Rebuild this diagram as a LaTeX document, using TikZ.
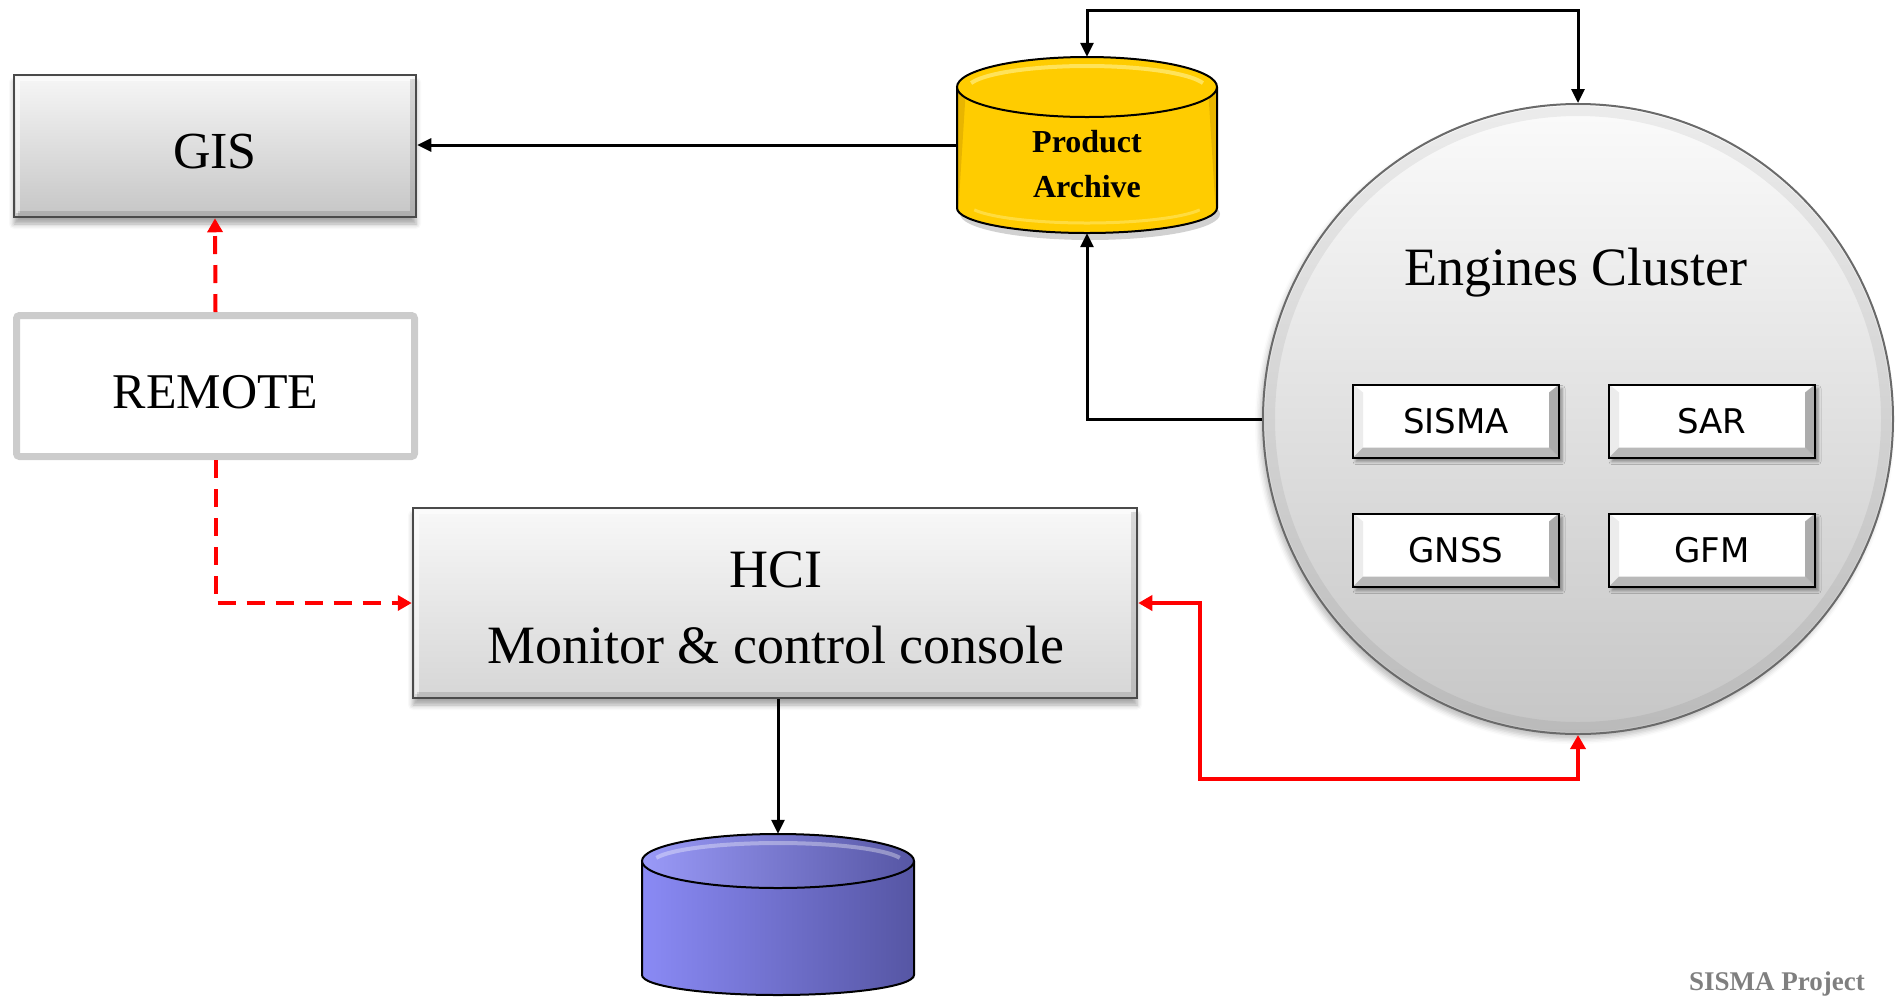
\documentclass[tikz,border=0pt]{standalone}
\usepackage{fontspec}
\setmainfont{Liberation Serif}
\newfontfamily\boxsans{DejaVu Sans}
\usetikzlibrary{arrows.meta,shadows.blur}

\definecolor{frame}{HTML}{4A4A4A}
\definecolor{gisTop}{HTML}{F6F6F6}
\definecolor{gisBot}{HTML}{C6C6C6}
\definecolor{hciTop}{HTML}{F8F8F8}
\definecolor{hciBot}{HTML}{D6D6D6}
\definecolor{remoteEdge}{HTML}{CCCCCC}
\definecolor{archYel}{HTML}{FFCC00}
\definecolor{archYelDark}{HTML}{E8B500}
\definecolor{archYelLight}{HTML}{FFE35A}
\definecolor{dbBlueL}{HTML}{8A8AF5}
\definecolor{dbBlueR}{HTML}{5656A4}
\definecolor{dbBlueTop}{HTML}{9A9AF8}
\definecolor{linkRed}{HTML}{FF0000}
\definecolor{footGray}{HTML}{7F7F7F}
\definecolor{clusterTop}{HTML}{FBFBFB}
\definecolor{clusterBot}{HTML}{C6C6C6}
\definecolor{clusterEdge}{HTML}{6A6A6A}

\newcommand\sz[2]{\fontsize{#1}{#2}\selectfont}

\begin{document}
\begin{tikzpicture}[x=1pt,y=-1pt,
  blk/.tip={Triangle[length=14pt,width=13pt]},
  rtip/.tip={Triangle[length=14pt,width=15pt]},
  panel/.style={draw=frame, line width=2.5pt, inner sep=0pt,
    blur shadow={shadow xshift=0pt, shadow yshift=-7pt, shadow blur radius=5pt, shadow opacity=35},
    path picture={
      \draw[white, opacity=0.55, line width=4pt]
        ([xshift=4pt,yshift=4pt]path picture bounding box.south west) --
        ([xshift=4pt,yshift=-4pt]path picture bounding box.north west) --
        ([xshift=-4pt,yshift=-4pt]path picture bounding box.north east);
      \draw[black, opacity=0.12, line width=5pt]
        ([xshift=-4pt,yshift=-4pt]path picture bounding box.north east) --
        ([xshift=-4pt,yshift=4pt]path picture bounding box.south east) --
        ([xshift=4pt,yshift=4pt]path picture bounding box.south west);
    }},
  engine/.style={draw=black, line width=2pt, fill=white, inner sep=0pt,
    minimum width=206pt, minimum height=73pt, font=\boxsans\sz{34}{40},
    blur shadow={shadow xshift=3pt, shadow yshift=-4pt, shadow blur radius=3pt, shadow opacity=40},
    path picture={
      \fill[gray!15] (path picture bounding box.north west) --
        (path picture bounding box.south west) --
        ([xshift=10pt,yshift=10pt]path picture bounding box.south west) --
        ([xshift=10pt,yshift=-8pt]path picture bounding box.north west) -- cycle;
      \fill[gray!55] (path picture bounding box.south west) --
        (path picture bounding box.south east) --
        ([xshift=-10pt,yshift=10pt]path picture bounding box.south east) --
        ([xshift=10pt,yshift=10pt]path picture bounding box.south west) -- cycle;
      \fill[gray!65] (path picture bounding box.south east) --
        (path picture bounding box.north east) --
        ([xshift=-10pt,yshift=-8pt]path picture bounding box.north east) --
        ([xshift=-10pt,yshift=10pt]path picture bounding box.south east) -- cycle;
    }},
  link/.style={line width=3pt, -blk},
  link2/.style={line width=3pt, blk-blk},
  redlink/.style={draw=linkRed, line width=4pt, rtip-rtip},
  reddash/.style={draw=linkRed, line width=4pt, dash pattern=on 18pt off 11pt, -rtip}
]
\useasboundingbox (0,0) rectangle (1896,997);

% ---------- GIS and REMOTE ----------
\node[panel, top color=gisTop, bottom color=gisBot,
      minimum width=402pt, minimum height=142pt, font=\sz{52}{60},
      text height=44pt, text depth=0pt] (gis) at (215,146) {GIS};

\node[draw=remoteEdge, line width=7pt, fill=white, rounded corners=3pt,
      minimum width=398pt, minimum height=141pt, font=\sz{50}{58},
      text height=44pt, text depth=0pt] (remote) at (215.5,386) {REMOTE};

% ---------- HCI console ----------
\node[panel, top color=hciTop, bottom color=hciBot,
      minimum width=724pt, minimum height=190pt] (hci) at (775,603) {};
\node[font=\sz{54}{76}, align=center] (hcitext) at (776,608) {HCI\\Monitor \& control console};

% ---------- Product archive drum ----------
\fill[black, opacity=0.18] (1090,214) ellipse [x radius=130, y radius=26];
\fill[archYel]
  (957,87) -- (957,208) arc[start angle=180, end angle=0, x radius=130, y radius=25] -- (1217,87) -- cycle;
\fill[archYelDark] (957,87) -- (957,208) arc[start angle=180, end angle=172, x radius=130, y radius=25] -- (966,87) -- cycle;
\fill[archYelDark] (1217,87) -- (1217,208) arc[start angle=0, end angle=8, x radius=130, y radius=25] -- (1208,87) -- cycle;
\draw[archYelLight, line width=3pt, opacity=0.7] (1087,203) ++(160:120 and 20) arc[start angle=160, end angle=20, x radius=120, y radius=20];
\draw[line width=2pt] (957,87) -- (957,208) arc[start angle=180, end angle=0, x radius=130, y radius=25] -- (1217,87);
\draw[line width=2pt, fill=archYel] (1087,87) ellipse [x radius=130, y radius=30];
\draw[archYelLight, line width=4pt] (1087,89) ++(195:120 and 23) arc[start angle=195, end angle=345, x radius=120, y radius=23];
\node[inner sep=0pt, minimum width=260pt, minimum height=176pt] (pa) at (1087,145) {};
\node[font=\bfseries\sz{32}{45}, align=center] (patext) at (1087,164) {Product\\Archive};

% ---------- Local database drum ----------
\path[left color=dbBlueL, right color=dbBlueR]
  (642,861) -- (642,975) arc[start angle=180, end angle=0, x radius=136, y radius=20] -- (914,861) -- cycle;
\draw[line width=2pt] (642,861) -- (642,975) arc[start angle=180, end angle=0, x radius=136, y radius=20] -- (914,861);
\draw[line width=2pt, left color=dbBlueTop, right color=dbBlueR] (778,861) ellipse [x radius=136, y radius=27];
\draw[white, opacity=0.35, line width=4pt] (778,863) ++(195:126 and 20) arc[start angle=195, end angle=345, x radius=126, y radius=20];
\node[inner sep=0pt, minimum width=272pt, minimum height=161pt] (db) at (778,914.5) {};

% ---------- Engines cluster ----------
\node[circle, draw=clusterEdge, line width=2pt, inner sep=0pt, minimum size=630pt,
      top color=clusterTop, bottom color=clusterBot,
      blur shadow={shadow xshift=-3pt, shadow yshift=-5pt, shadow blur radius=5pt, shadow opacity=25}] (ec) at (1578,419) {};
\draw[black, opacity=0.06, line width=10pt] (ec.center) circle [radius=308];
\node[font=\sz{54}{60}] (ectitle) at (1576,273) {Engines Cluster};

\node[engine] (sisma) at (1456,421) {SISMA};
\node[engine] (sar)   at (1712,421) {SAR};
\node[engine] (gnss)  at (1456,550) {GNSS};
\node[engine] (gfm)   at (1712,550) {GFM};

% ---------- Connectors ----------
\coordinate (looptop) at (1087,10);
\coordinate (redturn) at (1200,779);

\draw[link] (pa.west) -- (pa.west -| gis.east);
\draw[link2] (pa.north) -- (looptop) -| (ec.north);
\draw[link] (ec.west) -| (pa.south);
\draw[link] (hci.south -| db.north) -- (db.north);
\draw[redlink] (hci.east) -| (redturn) -| (ec.south);
\draw[reddash] (remote.north) -- (gis.south);
\draw[reddash] (remote.south) |- (hci.west);

% ---------- Footer ----------
\node[font=\bfseries\sz{27}{30}, text=footGray, anchor=base] (footer) at (1777,990) {SISMA Project};
\end{tikzpicture}
\end{document}
